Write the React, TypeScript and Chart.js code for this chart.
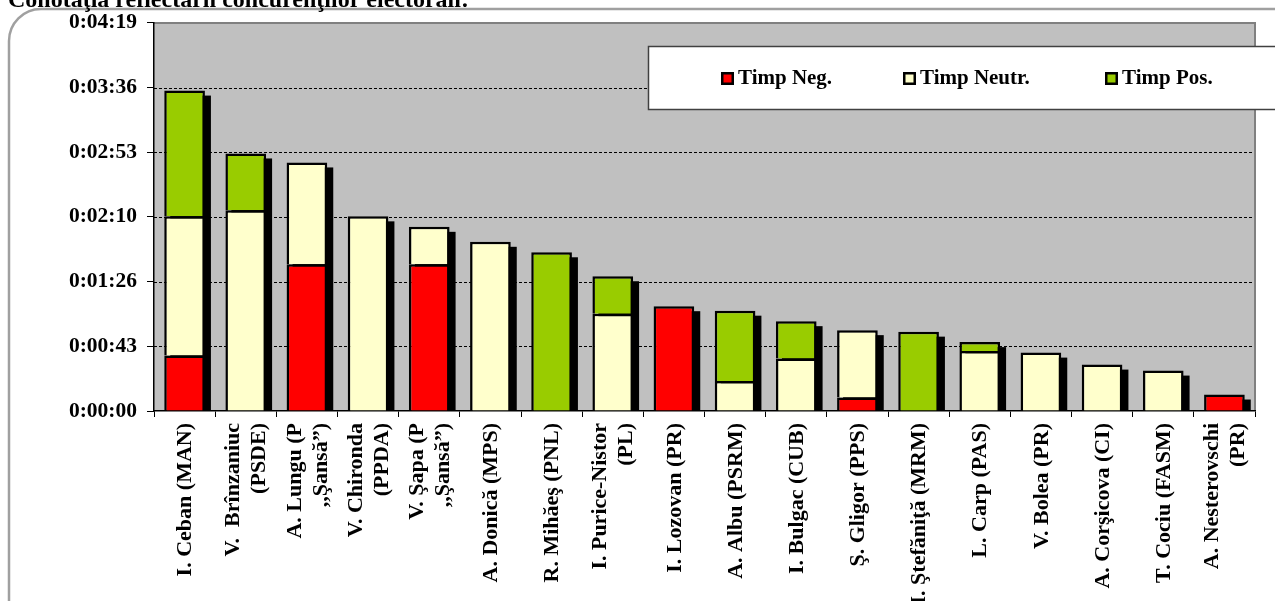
import React, { useEffect, useRef } from 'react';
import { Chart, registerables } from 'chart.js';

Chart.register(...registerables);

const TITLE = 'Conotaţia reflectării concurenţilor electorali:';

const candidates: (string | string[])[] = [
  'I. Ceban (MAN)',
  ['V.  Brînzaniuc', '(PSDE)'],
  ['A. Lungu (P', ',,Şansă”)'],
  ['V. Chironda', '(PPDA)'],
  ['V. Şapa (P', ',,Şansă”)'],
  'A. Donică (MPS)',
  'R. Mihăeş (PNL)',
  ['I. Purice-Nistor', '(PL)'],
  'I. Lozovan (PR)',
  'A. Albu (PSRM)',
  'I. Bulgac (CUB)',
  'Ş. Gligor (PPS)',
  'I. Ştefăniţă (MRM)',
  'L. Carp (PAS)',
  'V. Bolea (PR)',
  'A. Corşicova (CI)',
  'T. Cociu (FASM)',
  ['A. Nesterovschi', '(PR)'],
];

// seconds
const timpNeg = [37, 0, 98, 0, 98, 0, 0, 0, 70, 0, 0, 9, 0, 0, 0, 0, 0, 11];
const timpNeutr = [93, 134, 68, 130, 25, 113, 0, 65, 0, 20, 35, 45, 0, 40, 39, 31, 27, 0];
const timpPos = [84, 38, 0, 0, 0, 0, 106, 25, 0, 47, 25, 0, 53, 6, 0, 0, 0, 0];

const seriesNames = ['Timp Neg.', 'Timp Neutr.', 'Timp Pos.'];
const seriesColors = ['#FF0000', '#FFFFCC', '#99CC00'];
const seriesValues = [timpNeg, timpNeutr, timpPos];

const Y_MAX = 259.2;
const Y_STEP = 43.2;

const FONT = '"Liberation Serif", "Times New Roman", serif';

function fmtTime(sec: number): string {
  const s = Math.round(sec);
  const h = Math.floor(s / 3600);
  const m = Math.floor((s % 3600) / 60);
  const ss = s % 60;
  return `${h}:${String(m).padStart(2, '0')}:${String(ss).padStart(2, '0')}`;
}

const decorPlugin = {
  id: 'decor',
  beforeDraw(chart: any) {
    const { ctx, chartArea: a } = chart;
    const y = chart.scales.y;
    ctx.save();
    ctx.fillStyle = '#FFFFFF';
    ctx.fillRect(0, 0, chart.width, chart.height);
    // rounded frame
    ctx.strokeStyle = '#A0A0A0';
    ctx.lineWidth = 2.5;
    ctx.beginPath();
    (ctx as any).roundRect(9, 9, 1300, 700, 32);
    ctx.stroke();
    // plot area
    ctx.fillStyle = '#C0C0C0';
    ctx.fillRect(a.left, a.top, a.right - a.left, a.bottom - a.top);
    ctx.strokeStyle = '#000';
    ctx.lineWidth = 1;
    ctx.setLineDash([3, 2]);
    y.ticks.forEach((t: any) => {
      if (t.value <= 0 || t.value >= Y_MAX - 1e-6) return;
      const py = Math.round(y.getPixelForValue(t.value)) + 0.5;
      ctx.beginPath();
      ctx.moveTo(a.left, py);
      ctx.lineTo(a.right, py);
      ctx.stroke();
    });
    ctx.setLineDash([]);
    ctx.strokeStyle = '#808080';
    ctx.lineWidth = 2;
    ctx.beginPath();
    ctx.moveTo(a.left, a.top);
    ctx.lineTo(a.right, a.top);
    ctx.lineTo(a.right, a.bottom);
    ctx.stroke();
    ctx.restore();
  },
  beforeDatasetsDraw(chart: any) {
    const { ctx } = chart;
    const x = chart.scales.x;
    const y = chart.scales.y;
    ctx.save();
    ctx.fillStyle = '#000';
    candidates.forEach((_, i) => {
      const total = seriesValues.reduce((s, arr) => s + arr[i], 0);
      let w = 0;
      for (let d = 0; d < seriesValues.length; d++) {
        const el = chart.getDatasetMeta(d).data[i];
        if (el && seriesValues[d][i] && el.width) { w = el.width; break; }
      }
      if (!w) return;
      const cx = x.getPixelForValue(i);
      const top = y.getPixelForValue(total);
      const bottom = y.getPixelForValue(0);
      ctx.fillRect(cx - w / 2 + 6, top + 5, w, bottom - top - 5);
    });
    ctx.restore();
  },
  afterDraw(chart: any) {
    const { ctx } = chart;
    const x = chart.scales.x;
    ctx.save();
    // x labels
    ctx.fillStyle = '#000';
    ctx.font = `bold 22px ${FONT}`;
    ctx.textAlign = 'right';
    ctx.textBaseline = 'middle';
    const lineH = 26;
    candidates.forEach((lab, i) => {
      const lines = Array.isArray(lab) ? lab : [lab];
      const cx = x.getPixelForValue(i);
      ctx.save();
      ctx.translate(cx, x.top + 12);
      ctx.rotate(-Math.PI / 2);
      lines.forEach((ln, j) => {
        ctx.fillText(ln, 0, (j - (lines.length - 1) / 2) * lineH + 1);
      });
      ctx.restore();
    });
    // legend
    ctx.fillStyle = '#FFFFFF';
    ctx.fillRect(648, 46, 700, 64);
    ctx.strokeStyle = '#404040';
    ctx.lineWidth = 1.5;
    ctx.strokeRect(648.5, 46.5, 700, 63);
    const legX = [721, 903, 1105];
    seriesNames.forEach((nm, k) => {
      const lx = legX[k];
      ctx.fillStyle = '#000';
      ctx.fillRect(lx, 72, 13, 13);
      ctx.fillStyle = seriesColors[k];
      ctx.fillRect(lx + 2.5, 74.5, 8, 8);
      ctx.fillStyle = '#000';
      ctx.font = `bold 21px ${FONT}`;
      ctx.textAlign = 'left';
      ctx.textBaseline = 'middle';
      ctx.fillText(nm, lx + 17, 79);
    });
    // title (cut off at top)
    ctx.fillStyle = '#000';
    ctx.font = `bold 24px ${FONT}`;
    ctx.textAlign = 'left';
    ctx.textBaseline = 'alphabetic';
    ctx.fillText(TITLE, 8, 7);
    ctx.restore();
  },
};

export default function App() {
  const ref = useRef<HTMLCanvasElement | null>(null);
  useEffect(() => {
    if (!ref.current) return;
    const chart = new Chart(ref.current, {
      type: 'bar',
      data: {
        labels: candidates.map((c) => (Array.isArray(c) ? c.join(' ') : c)),
        datasets: seriesValues.map((vals, k) => ({
          label: seriesNames[k],
          data: vals.map((v) => (v ? v : null)),
          backgroundColor: seriesColors[k],
          borderColor: '#000',
          borderWidth: 2.5,
          borderSkipped: 'start',
          barPercentage: 0.665,
          categoryPercentage: 1,
        })),
      },
      options: {
        responsive: false,
        animation: false,
        devicePixelRatio: 1,
        layout: { padding: { top: 21, right: 20, left: 0, bottom: 0 } },
        plugins: { legend: { display: false }, tooltip: { enabled: false }, title: { display: false } },
        scales: {
          x: {
            stacked: true,
            offset: true,
            grid: { display: true, drawOnChartArea: false, drawTicks: true, tickLength: 6, color: '#000', offset: true },
            border: { display: true, color: '#000', width: 1.5 },
            ticks: { display: false },
            afterFit: (s: any) => { s.height = 190; },
          },
          y: {
            stacked: true,
            min: 0,
            max: Y_MAX,
            grid: { display: true, drawOnChartArea: false, drawTicks: true, tickLength: 7, color: '#000' },
            border: { display: true, color: '#000', width: 1.5 },
            ticks: {
              stepSize: Y_STEP,
              padding: 10,
              color: '#000',
              font: { family: FONT, size: 21.5, weight: 'bold' },
              callback: (v: any) => fmtTime(Number(v)),
            },
            afterFit: (s: any) => { s.width = 154; },
          },
        },
      },
      plugins: [decorPlugin],
    } as any);
    return () => chart.destroy();
  }, []);
  return (
    <div style={{ position: 'absolute', left: 0, top: 0, width: 1275, height: 601 }}>
      <canvas ref={ref} width={1275} height={601} style={{ width: 1275, height: 601, display: 'block' }} />
    </div>
  );
}
